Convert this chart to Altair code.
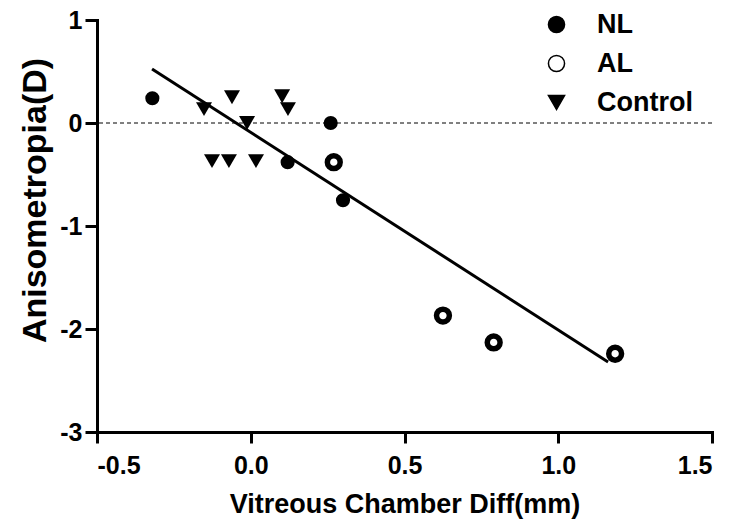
import altair as alt
import pandas as pd

# ---- data ----
nl_x = [-0.32, 0.26, 0.12, 0.30]
nl_y = [0.24, 0.0, -0.38, -0.75]
al_x = [0.27, 0.625, 0.79, 1.185]
al_y = [-0.38, -1.87, -2.13, -2.24]
ctrl_x = [-0.152, -0.061, -0.012, 0.102, 0.121, -0.126, -0.071, 0.017]
ctrl_y = [0.135, 0.25, 0.0, 0.26, 0.135, -0.37, -0.37, -0.37]
fit_x = [-0.321, 1.162]
fit_y = [0.524, -2.32]
groups = ["NL", "AL", "Control"]
x_ticks = [-0.5, 0.0, 0.5, 1.0, 1.5]
y_ticks = [-3, -2, -1, 0, 1]

pts = pd.DataFrame({
    "x": nl_x + al_x + ctrl_x,
    "y": nl_y + al_y + ctrl_y,
    "group": ["NL"] * len(nl_x) + ["AL"] * len(al_x) + ["Control"] * len(ctrl_x),
})
fit = pd.DataFrame({"x": fit_x, "y": fit_y})

FONT = "Liberation Sans"

xscale = alt.Scale(domain=[-0.5, 1.5], nice=False, zero=False)
yscale = alt.Scale(domain=[-3, 1], nice=False, zero=False)

xaxis = alt.Axis(
    values=x_ticks,
    labelExpr="datum.value < 0 ? '-' + format(-datum.value, '.1f') : format(datum.value, '.1f')",
    title="Vitreous Chamber Diff(mm)",
    tickSize=11, labelPadding=10,
    titleY=80, titleBaseline="alphabetic",
)
yaxis = alt.Axis(
    values=y_ticks,
    labelExpr="datum.value < 0 ? '-' + format(-datum.value, 'd') : format(datum.value, 'd')",
    title="Anisometropia(D)",
    tickSize=12, labelPadding=3,
    titleX=-52, titleY=180, titleBaseline="alphabetic", titleFontSize=34,
)

legend = alt.Legend(
    orient="none", legendX=446, legendY=-9, title=None,
    labelFont=FONT, labelFontSize=27, labelFontWeight="bold", labelColor="black",
    symbolSize=260, symbolStrokeWidth=1.5, symbolStrokeColor="black",
    rowPadding=11, labelOffset=27, padding=0,
)

zero_line = alt.Chart(pd.DataFrame({"y": [0]})).mark_rule(
    color="black", strokeWidth=1, strokeDash=[4, 3]
).encode(y=alt.Y("y:Q", scale=yscale, axis=yaxis))

line = alt.Chart(fit).mark_line(color="black", strokeWidth=3).encode(
    x=alt.X("x:Q", scale=xscale, axis=xaxis),
    y=alt.Y("y:Q", scale=yscale, axis=yaxis),
)

points = alt.Chart(pts).mark_point(opacity=1).encode(
    x=alt.X("x:Q", scale=xscale, axis=xaxis),
    y=alt.Y("y:Q", scale=yscale, axis=yaxis),
    shape=alt.Shape("group:N", scale=alt.Scale(domain=groups, range=["circle", "circle", "triangle-down"]),
                    legend=legend),
    fill=alt.Fill("group:N", scale=alt.Scale(domain=groups, range=["black", "white", "black"]),
                  legend=legend),
    stroke=alt.Stroke("group:N", scale=alt.Scale(domain=groups, range=["black", "black", "black"]),
                      legend=legend),
    strokeWidth={"condition": {"test": "datum.group == 'AL'", "value": 5.5}, "value": 0},
    size={"condition": [{"test": "datum.group == 'AL'", "value": 165},
                        {"test": "datum.group == 'NL'", "value": 200}],
          "value": 256},
)

chart = alt.layer(zero_line, line, points).properties(
    width=615, height=412,
    autosize=alt.AutoSizeParams(type="none"),
    padding={"left": 89, "top": 12, "right": 10, "bottom": 87},
).configure_view(stroke=None).configure_axis(
    grid=False,
    domainColor="black", domainWidth=3, domainCap="square",
    tickColor="black", tickWidth=3,
    labelFont=FONT, labelFontSize=25, labelFontWeight="bold", labelColor="black",
    titleFont=FONT, titleFontSize=27, titleFontWeight="bold", titleColor="black",
)

chart.save("out.html", embed_options={"renderer": "svg", "actions": False})
